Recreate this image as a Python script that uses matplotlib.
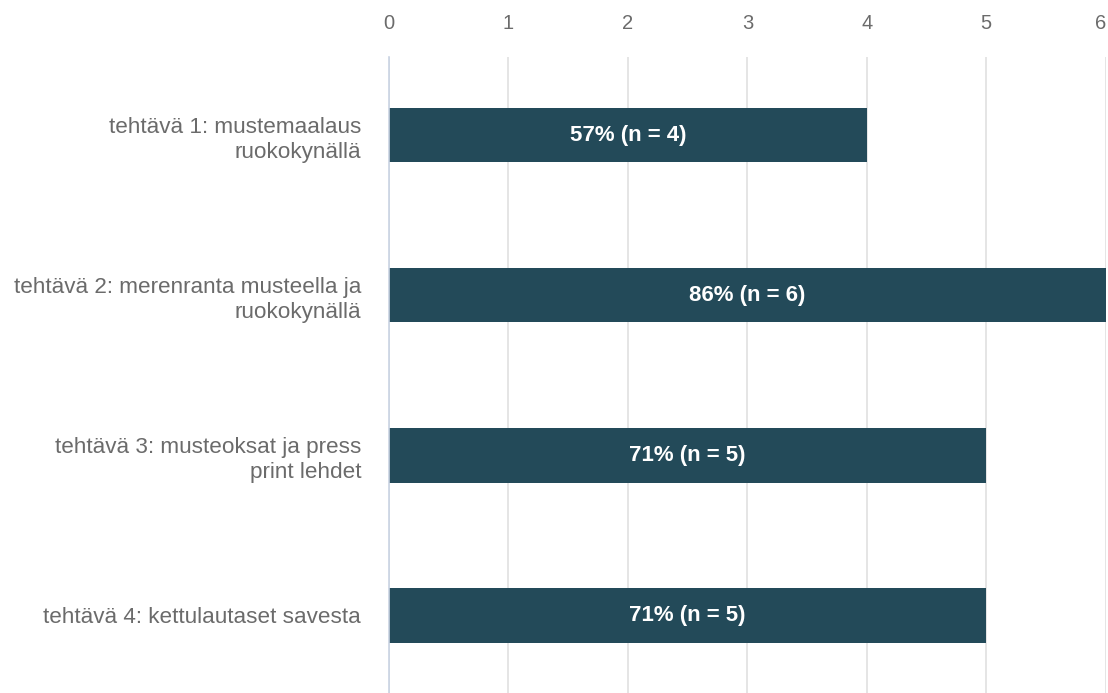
import matplotlib.pyplot as plt

plt.rcParams['font.family'] = ['Liberation Sans', 'DejaVu Sans']

# data
categories = [
    "tehtävä 1: mustemaalaus\nruokokynällä",
    "tehtävä 2: merenranta musteella ja\nruokokynällä",
    "tehtävä 3: musteoksat ja press\nprint lehdet",
    "tehtävä 4: kettulautaset savesta",
]
counts = [4, 6, 5, 5]
percents = [57, 86, 71, 71]
x_ticks = [0, 1, 2, 3, 4, 5, 6]

BAR_COLOR = "#234a59"
TEXT_GRAY = "#6b6b6b"

fig = plt.figure(figsize=(11.08, 6.93), dpi=100)
ax = fig.add_axes([0.351, 0.0, 0.647, 0.918])

pos = list(range(len(categories)))
ax.barh(pos, counts, height=0.34, color=BAR_COLOR, zorder=3)

for p, c, pc in zip(pos, counts, percents):
    ax.text(c / 2, p, f"{pc}% (n = {c})", ha="center", va="center",
            color="white", fontsize=16, fontweight="bold", zorder=4)

ax.set_xlim(0, 6)
ax.set_ylim(3.485, -0.49)
ax.set_xticks(x_ticks)
ax.set_yticks(pos)
ax.set_yticklabels(categories, linespacing=1.25)
ax.xaxis.tick_top()
ax.tick_params(axis="x", length=0, pad=17, labelsize=14.5, labelcolor=TEXT_GRAY)
ax.tick_params(axis="y", length=0, pad=20, labelsize=16.2, labelcolor=TEXT_GRAY)
for lbl in ax.get_yticklabels():
    lbl.set_horizontalalignment("right")
    lbl.set_multialignment("right")
ax.get_xticklabels()[-1].set_horizontalalignment("right")
ax.get_xticklabels()[-1].set_x(5.99)

ax.grid(axis="x", color="#e0e0e0", linewidth=1.2, zorder=0)
for s in ["top", "right", "bottom"]:
    ax.spines[s].set_visible(False)
ax.spines["left"].set_color("#c9d3e3")
ax.spines["left"].set_linewidth(1.2)
ax.spines["left"].set_zorder(5)

fig.savefig("out.png", dpi=100)
